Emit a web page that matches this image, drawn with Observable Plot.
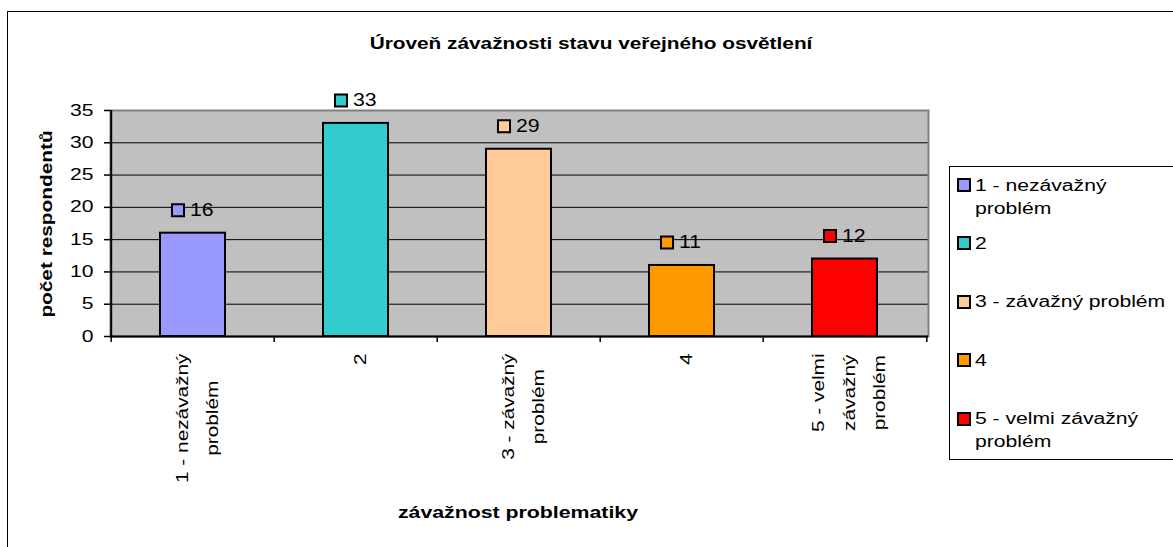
<!DOCTYPE html>
<html><head><meta charset="utf-8">
<script src="https://cdn.jsdelivr.net/npm/d3@7"></script>
<script src="https://cdn.jsdelivr.net/npm/@observablehq/plot@0.6"></script>
<style>
html,body{margin:0;padding:0;background:#fff;overflow:hidden;}
#wrap{position:relative;width:1173px;height:547px;overflow:hidden;font-family:"Liberation Sans",Arial,sans-serif;color:#000;}
#outer{position:absolute;left:7px;top:11px;width:1250px;height:650px;border:1px solid #000;}
#chart{position:absolute;left:0;top:0;}
.t{position:absolute;white-space:pre;line-height:1;}
#legend{position:absolute;left:949px;top:166px;width:300px;height:292px;border:1px solid #000;background:#fff;}
.sw{position:absolute;width:10px;height:10px;border:2px solid #000;}
.lt{position:absolute;white-space:pre;font-size:16px;line-height:23px;transform-origin:left center;transform:scaleX(1.32);}
</style></head><body><div id="wrap"><div id="outer"></div><div id="chart"></div><div id="legend"></div></div>
<script>
const categories = ["1 - nezávažný problém", "2", "3 - závažný problém", "4", "5 - velmi závažný problém"];
const values = [16, 33, 29, 11, 12];
const colors = ["#9999FF", "#33CCCC", "#FFCC99", "#FF9900", "#FF0000"];
const tickLabels = ["1 - nezávažný\nproblém", "2", "3 - závažný\nproblém", "4", "5 - velmi\nzávažný\nproblém"];
const legendLabels = ["1 - nezávažný\nproblém", "2", "3 - závažný problém", "4", "5 - velmi závažný\nproblém"];
const yTicks = [0, 5, 10, 15, 20, 25, 30, 35];
const title = "Úroveň závažnosti stavu veřejného osvětlení";
const xTitle = "závažnost problematiky";
const yTitle = "počet respondentů";

const W = 1173, H = 547, mL = 110, mR = 245, mT = 110, mB = 211;
const step = (W - mL - mR) / categories.length;
const data = categories.map((c, i) => ({cat: c, value: values[i], color: colors[i]}));
const tickMap = new Map(categories.map((c, i) => [c, tickLabels[i]]));

const chart = Plot.plot({
  width: W, height: H,
  marginLeft: mL, marginRight: mR, marginTop: mT, marginBottom: mB,
  style: {fontFamily: "'Liberation Sans', Arial, sans-serif", fontSize: "16px", color: "#000", background: "transparent", overflow: "visible"},
  x: {domain: categories, paddingInner: 0.6, paddingOuter: 0.3, axis: null},
  y: {domain: [0, 35], axis: null},
  color: {type: "identity"},
  marks: [
    Plot.frame({fill: "#c0c0c0", stroke: "none"}),
    Plot.ruleY(yTicks.filter(t => t > 0 && t < 35), {stroke: "#000", strokeWidth: 1}),
    Plot.frame({fill: "none", stroke: "#808080", strokeWidth: 2}),
    Plot.ruleY([0], {stroke: "#000", strokeWidth: 2}),
    Plot.ruleX(categories.slice(0, 1), {dx: -step / 2, stroke: "#000", strokeWidth: 2}),
    Plot.axisY(yTicks, {tickSize: 6, tickPadding: 11, tickFormat: d => String(d), stroke: "#000", strokeWidth: 1.5, label: null}),
    Plot.axisX(categories, {tickSize: 6, tickFormat: () => "", dx: -step / 2, stroke: "#000", strokeWidth: 1.5, label: null}),
    Plot.axisX(categories.slice(-1), {tickSize: 6, tickFormat: () => "", dx: step / 2, stroke: "#000", strokeWidth: 1.5, label: null}),
    Plot.axisX(categories, {tickSize: 0, tickPadding: 17, tickRotate: -90, textAnchor: "middle", lineAnchor: "middle", lineHeight: 1.9, tickFormat: d => tickMap.get(d), label: null}),
    Plot.barY(data, {x: "cat", y: "value", fill: "color", stroke: "#000", strokeWidth: 2}),
    Plot.dot(data, {x: "cat", y: "value", symbol: "square", r: 6.8, fill: "color", stroke: "#000", strokeWidth: 2, dx: -15, dy: -23}),
    Plot.text(data, {x: "cat", y: "value", text: d => String(d.value), textAnchor: "start", dx: -3, dy: -23, fontSize: 18, fill: "#000"})
  ]
});
document.getElementById("chart").appendChild(chart);

function stretch(el, k) {
  const L = el.getComputedTextLength();
  if (L > 0) { el.setAttribute("textLength", L * k); el.setAttribute("lengthAdjust", "spacingAndGlyphs"); }
  return L * k;
}
chart.querySelectorAll('g[aria-label="y-axis tick label"] text').forEach(t => stretch(t, 1.32));
chart.querySelectorAll('g[aria-label="text"] text').forEach(t => stretch(t, 1.18));
chart.querySelectorAll('g[aria-label="x-axis tick label"] text').forEach(t => {
  const spans = t.querySelectorAll("tspan");
  let maxL = 0;
  if (spans.length) spans.forEach(s => { maxL = Math.max(maxL, stretch(s, 1.3)); });
  else maxL = stretch(t, 1.3);
  if (maxL > 0) t.setAttribute("transform", (t.getAttribute("transform") || "") + ` translate(${-maxL / 2},0)`);
});

const wrap = document.getElementById("wrap");
function addText(txt, x, y, css, tf) {
  const d = document.createElement("div");
  d.className = "t"; d.textContent = txt;
  d.style.cssText += `left:${x}px;top:${y}px;${css}`;
  d.style.transform = tf;
  wrap.appendChild(d);
}
addText(title, 591, 44, "font-weight:bold;font-size:16px;", "translate(-50%,-50%) scaleX(1.3)");
addText(xTitle, 518, 513, "font-weight:bold;font-size:16px;", "translate(-50%,-50%) scaleX(1.33)");
addText(yTitle, 47, 224, "font-weight:bold;font-size:16px;", "translate(-50%,-50%) rotate(-90deg) scaleX(1.3)");

const legend = document.getElementById("legend");
const lTop = 166, centers0 = 185, gap = 58.4;
legendLabels.forEach((lab, i) => {
  const cy = centers0 + i * gap - lTop - 1;
  const sw = document.createElement("div");
  sw.className = "sw"; sw.style.background = colors[i];
  sw.style.left = (957 - 949 - 1) + "px"; sw.style.top = (cy - 7) + "px";
  legend.appendChild(sw);
  const lt = document.createElement("div");
  lt.className = "lt"; lt.textContent = lab;
  lt.style.left = (975 - 949 - 1) + "px"; lt.style.top = (cy - 11.5) + "px";
  legend.appendChild(lt);
});
</script></body></html>
